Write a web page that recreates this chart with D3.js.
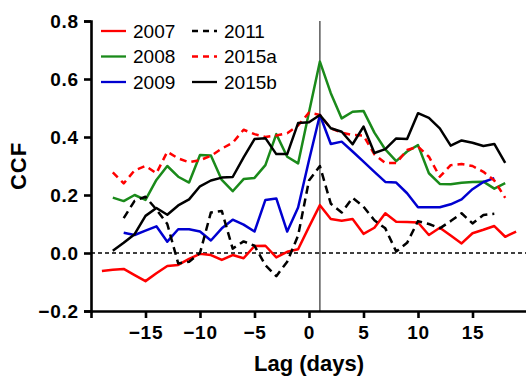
<!DOCTYPE html>
<html>
<head>
<meta charset="utf-8">
<script src="https://cdn.jsdelivr.net/npm/d3@7"></script>
<style>
  body { margin: 0; background: #fff; }
  svg { font-family: "Liberation Sans", Arial, sans-serif; }
</style>
</head>
<body>
<svg id="chart" width="526" height="376"></svg>
<script>
// lag values (days)
const lags2007 = d3.range(-19, 20);
const lags2008 = d3.range(-18, 19);
const lags2009 = d3.range(-17, 18);
const lags2011 = d3.range(-17, 18);
const lags2015a = d3.range(-18, 19);
const lags2015b = d3.range(-18, 19);

const ccf2007 = [-0.062, -0.058, -0.055, -0.076, -0.097, -0.07, -0.045, -0.041, -0.02, -0.003,
  -0.007, -0.024, -0.007, -0.018, 0.024, 0.025, -0.015, 0.004, 0.013, 0.09,
  0.165, 0.117, 0.111, 0.117, 0.066, 0.087, 0.137, 0.108, 0.107, 0.105,
  0.062, 0.087, 0.06, 0.033, 0.068, 0.08, 0.093, 0.056, 0.074];
const ccf2008 = [0.191, 0.179, 0.2, 0.183, 0.252, 0.3, 0.263, 0.243, 0.338, 0.336,
  0.252, 0.213, 0.255, 0.259, 0.303, 0.41, 0.332, 0.309, 0.485, 0.66,
  0.551, 0.464, 0.487, 0.49, 0.415, 0.357, 0.317, 0.35, 0.372, 0.275,
  0.238, 0.237, 0.242, 0.245, 0.246, 0.222, 0.241];
const ccf2009 = [0.07, 0.062, 0.077, 0.092, 0.039, 0.082, 0.082, 0.074, 0.043, 0.085,
  0.115, 0.098, 0.074, 0.183, 0.188, 0.074, 0.157, 0.32, 0.476, 0.376,
  0.384, 0.35, 0.315, 0.28, 0.245, 0.243, 0.206, 0.158, 0.158, 0.158,
  0.168, 0.185, 0.22, 0.245, 0.258];
const ccf2011 = [0.12, 0.18, 0.194, 0.15, 0.1, -0.036, -0.03, 0.0, 0.14, 0.145,
  0.015, 0.04, 0.025, -0.042, -0.08, -0.03, 0.06, 0.25, 0.3, 0.17,
  0.14, 0.19, 0.16, 0.113, 0.085, 0.005, 0.035, 0.11, 0.1, 0.085,
  0.11, 0.137, 0.102, 0.131, 0.135];
const ccf2015a = [0.278, 0.24, 0.285, 0.3, 0.275, 0.349, 0.326, 0.313, 0.32, 0.335,
  0.36, 0.38, 0.425, 0.41, 0.4, 0.405, 0.413, 0.44, 0.484, 0.476,
  0.43, 0.415, 0.407, 0.405, 0.34, 0.31, 0.31, 0.355, 0.367, 0.332,
  0.263, 0.303, 0.307, 0.3, 0.28, 0.25, 0.19];
const ccf2015b = [0.008, 0.035, 0.065, 0.128, 0.155, 0.132, 0.164, 0.185, 0.23, 0.25,
  0.26, 0.262, 0.33, 0.393, 0.396, 0.341, 0.341, 0.448, 0.451, 0.476,
  0.43, 0.418, 0.375, 0.436, 0.345, 0.358, 0.395, 0.393, 0.482, 0.466,
  0.43, 0.37, 0.388, 0.38, 0.369, 0.376, 0.311];

const seriesNames = ["2007", "2008", "2009", "2011", "2015a", "2015b"];
const xTicks = [-15, -10, -5, 0, 5, 10, 15];
const yTicks = [-0.2, 0.0, 0.2, 0.4, 0.6, 0.8];

const series = [
  { name: seriesNames[0], lags: lags2007, vals: ccf2007, color: "#ff0000", dash: null },
  { name: seriesNames[1], lags: lags2008, vals: ccf2008, color: "#1a8a1a", dash: null },
  { name: seriesNames[2], lags: lags2009, vals: ccf2009, color: "#0000d0", dash: null },
  { name: seriesNames[3], lags: lags2011, vals: ccf2011, color: "#000000", dash: "8,5" },
  { name: seriesNames[4], lags: lags2015a, vals: ccf2015a, color: "#ff0000", dash: "7,5" },
  { name: seriesNames[5], lags: lags2015b, vals: ccf2015b, color: "#000000", dash: null }
];

const svg = d3.select("#chart");
const mLeft = 91, mRight = 527, mTop = 21, mBottom = 311;

const x = d3.scaleLinear().domain([-20, 20]).range([mLeft, mRight]);
const y = d3.scaleLinear().domain([-0.2, 0.8]).range([mBottom, mTop]);

// zero reference line
svg.append("line")
  .attr("x1", x(-20)).attr("x2", x(20))
  .attr("y1", y(0)).attr("y2", y(0))
  .attr("stroke", "#000").attr("stroke-width", 1.3)
  .attr("stroke-dasharray", "4,3");

// lag = 1 marker
svg.append("line")
  .attr("x1", x(1)).attr("x2", x(1))
  .attr("y1", y(0.8)).attr("y2", y(-0.2))
  .attr("stroke", "#333").attr("stroke-width", 1.2);

const line = d3.line()
  .x(function (d) { return x(d[0]); })
  .y(function (d) { return y(d[1]); });

svg.selectAll(".series")
  .data(series)
  .join("path")
  .attr("class", "series")
  .attr("fill", "none")
  .attr("stroke", function (d) { return d.color; })
  .attr("stroke-width", 2.5)
  .attr("stroke-linejoin", "round")
  .attr("stroke-dasharray", function (d) { return d.dash; })
  .attr("d", function (d) { return line(d3.zip(d.lags, d.vals)); });

// axes
const xAxis = svg.append("g")
  .attr("transform", `translate(0,${mBottom})`)
  .call(d3.axisBottom(x).tickValues(xTicks).tickSize(7).tickPadding(5).tickFormat(d3.format("d")));
const yAxis = svg.append("g")
  .attr("transform", `translate(${mLeft},0)`)
  .call(d3.axisLeft(y).tickValues(yTicks).tickSize(7).tickPadding(5).tickFormat(d3.format(".1f")));

[xAxis, yAxis].forEach(function (g) {
  g.select(".domain").attr("stroke-width", 2.6);
  g.selectAll(".tick line").attr("stroke-width", 2.6);
  g.selectAll(".tick text")
    .attr("font-size", 19).attr("font-weight", "bold").attr("fill", "#000")
    .attr("font-family", "Liberation Sans, Arial, sans-serif")
    .style("letter-spacing", "0.8px");
});
xAxis.selectAll(".tick text").attr("dy", "0.85em");

svg.append("text")
  .attr("x", x(0)).attr("y", 371)
  .attr("text-anchor", "middle")
  .attr("font-size", 22).attr("font-weight", "bold")
  .text("Lag (days)");

svg.append("text")
  .attr("transform", `translate(26,${(mTop + mBottom) / 2}) rotate(-90)`)
  .attr("text-anchor", "middle")
  .attr("font-size", 22).attr("font-weight", "bold")
  .style("letter-spacing", "1px")
  .text("CCF");

// legend, two columns of three
const legend = svg.selectAll(".legend")
  .data(series)
  .join("g")
  .attr("class", "legend")
  .attr("transform", function (d, i) {
    return `translate(${i < 3 ? 101 : 192},${31 + (i % 3) * 25.5})`;
  });
legend.append("line")
  .attr("x1", 0).attr("x2", 25)
  .attr("stroke", function (d) { return d.color; })
  .attr("stroke-width", 2.3)
  .attr("stroke-dasharray", function (d) { return d.dash ? "6,5" : null; });
legend.append("text")
  .attr("x", 32).attr("dy", "0.36em")
  .attr("font-size", 19)
  .text(function (d) { return d.name; });
</script>
</body>
</html>
